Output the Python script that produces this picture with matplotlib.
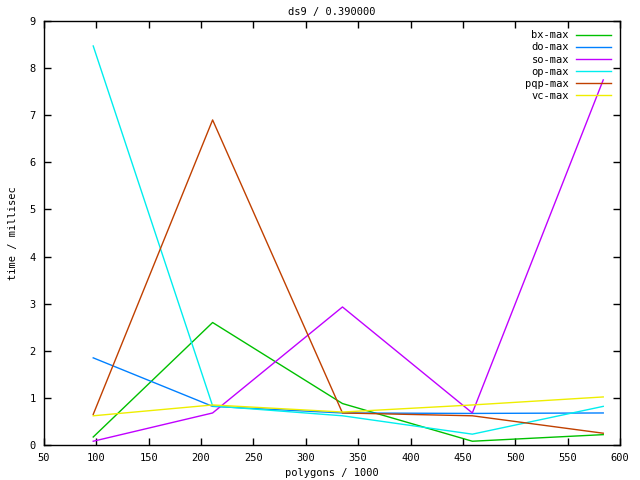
import numpy as np
import matplotlib
matplotlib.use("Agg")
import matplotlib.pyplot as plt

# polygons / 1000
polygons = [97, 211, 335, 459, 584]

bx_max = [0.17, 2.60, 0.88, 0.08, 0.22]
do_max = [1.85, 0.82, 0.68, 0.67, 0.68]
so_max = [0.08, 0.68, 2.93, 0.68, 7.75]
op_max = [8.47, 0.83, 0.62, 0.23, 0.82]
pqp_max = [0.65, 6.90, 0.68, 0.62, 0.25]
vc_max = [0.62, 0.85, 0.70, 0.85, 1.02]

labels = ["bx-max", "do-max", "so-max", "op-max", "pqp-max", "vc-max"]
series = [bx_max, do_max, so_max, op_max, pqp_max, vc_max]
colors = ["#00c000", "#0080ff", "#c000ff", "#00eeee", "#c04000", "#eeee00"]

plt.rcParams["font.family"] = ["DejaVu Sans Mono"]
plt.rcParams["font.size"] = 7.5

fig = plt.figure(figsize=(6.4, 4.8), dpi=100)
ax = fig.add_axes([44/640, 1-445/480, 576/640, 424/480])

for lab, ys, c in zip(labels, series, colors):
    ax.plot(polygons, ys, color=c, lw=1, label=lab)

ax.set_xlim(50, 600)
ax.set_ylim(0, 9)
ax.set_xticks(np.arange(50, 601, 50))
ax.set_yticks(np.arange(0, 10, 1))
ax.tick_params(direction="in", length=5, width=1, top=True, right=True, pad=6)
for s in ax.spines.values():
    s.set_linewidth(1)

ax.set_title("ds9 / 0.390000", fontsize=7.5, pad=4)
ax.set_xlabel("polygons / 1000", labelpad=3)
ax.set_ylabel("time / millisec", va="center")
ax.yaxis.set_label_coords(-0.054, 0.5)

leg = ax.legend(loc="upper right", frameon=False, markerfirst=False,
                handlelength=3.3, labelspacing=0.2, borderaxespad=0.5,
                handletextpad=0.7, fontsize=7.5)

fig.savefig("out.png", dpi=100)
